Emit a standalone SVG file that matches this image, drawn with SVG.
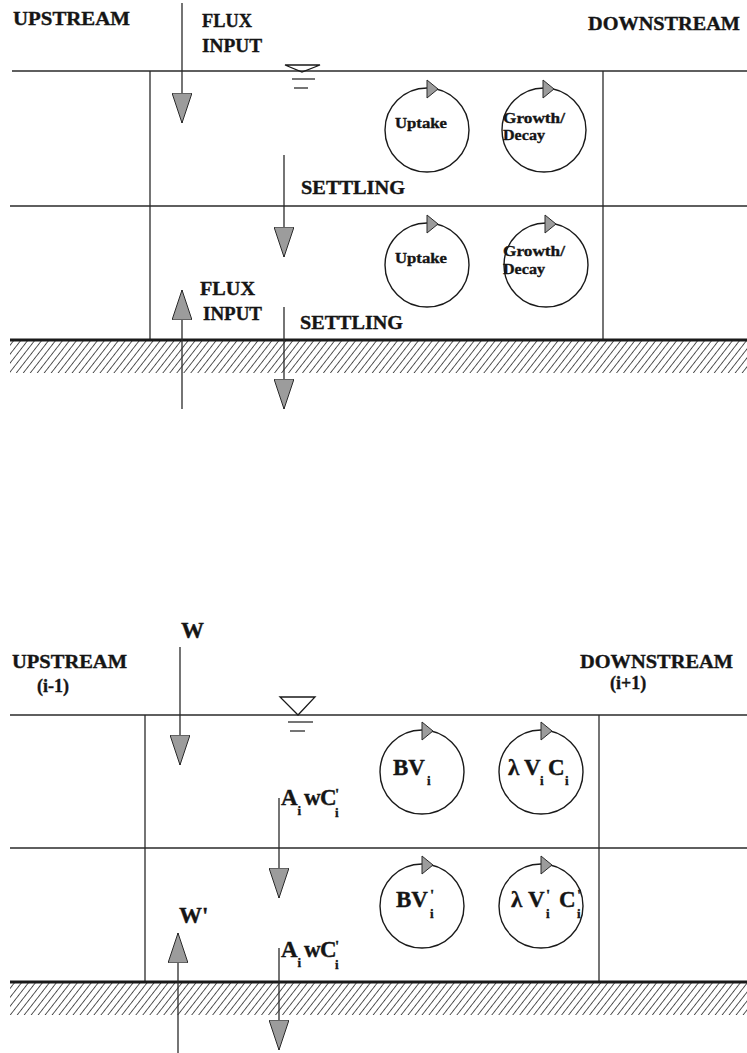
<svg xmlns="http://www.w3.org/2000/svg" width="747" height="1053" viewBox="0 0 747 1053">
<style>
.t{font-family:"Liberation Serif","Times New Roman",serif;font-weight:bold;fill:#151515;stroke:#151515;stroke-width:0.35}
.m{font-size:18px}
.s{font-size:15px}
.b{font-size:23px}
.sub{font-size:13px}
.pr{font-size:15px}
.ln{stroke:#2a2a2a;stroke-width:1.3;fill:none}
.bed{stroke:#1a1a1a;stroke-width:3;fill:none}
.circ{stroke:#1a1a1a;stroke-width:1.4;fill:none}
.ah{fill:#9c9c9c;stroke:#2a2a2a;stroke-width:1}
.ws{fill:none;stroke:#1a1a1a;stroke-width:1.3}
</style>
<defs>
<pattern id="hatch" width="5.5" height="6" patternUnits="userSpaceOnUse" patternTransform="rotate(38)">
<line x1="0" y1="0" x2="0" y2="6" stroke="#222" stroke-width="1.5"/>
</pattern>
<marker id="big" viewBox="0 0 30 20" markerWidth="30" markerHeight="20" refX="30" refY="10" orient="auto" markerUnits="userSpaceOnUse">
<path d="M0,0 L30,10 L0,20 Z" class="ah"/>
</marker>
<path id="carr" d="M0,-9 L11,0 L0,9 Z" class="ah"/>
</defs>

<!-- ===== Top diagram ===== -->
<g id="top-frame">
<line class="ln" x1="12" y1="71" x2="747" y2="71"/>
<line class="ln" x1="10" y1="206" x2="747" y2="206"/>
<line class="ln" x1="150" y1="71" x2="150" y2="340"/>
<line class="ln" x1="603" y1="71" x2="603" y2="340"/>
<rect x="10" y="341" width="737" height="32" fill="url(#hatch)"/>
<line class="bed" x1="10" y1="340" x2="747" y2="340"/>
<polygon class="ws" points="285,65 320,65 302,72"/>
<line class="ln" x1="292" y1="79" x2="315" y2="79"/>
<line class="ln" x1="294" y1="88" x2="308" y2="88"/>
</g>
<g id="top-labels">
<text class="t m" x="13" y="25" textLength="117" lengthAdjust="spacingAndGlyphs">UPSTREAM</text>
<text class="t m" x="588" y="30" textLength="152" lengthAdjust="spacingAndGlyphs">DOWNSTREAM</text>
<text class="t m" x="202" y="27" textLength="50" lengthAdjust="spacingAndGlyphs">FLUX</text>
<text class="t m" x="202" y="52" textLength="60" lengthAdjust="spacingAndGlyphs">INPUT</text>
<text class="t m" x="301" y="194" textLength="104" lengthAdjust="spacingAndGlyphs">SETTLING</text>
<text class="t m" x="200" y="295" textLength="55" lengthAdjust="spacingAndGlyphs">FLUX</text>
<text class="t m" x="203" y="320" textLength="59" lengthAdjust="spacingAndGlyphs">INPUT</text>
<text class="t m" x="300" y="329" textLength="103" lengthAdjust="spacingAndGlyphs">SETTLING</text>
</g>
<g id="top-uptake-1">
<circle class="circ" cx="427" cy="130" r="42"/>
<use href="#carr" x="427" y="89"/>
<text class="t s" x="395" y="128" textLength="52" lengthAdjust="spacingAndGlyphs">Uptake</text>
</g>
<g id="top-growth-1">
<circle class="circ" cx="544" cy="130" r="42"/>
<use href="#carr" x="543" y="89"/>
<text class="t s" x="503" y="123" textLength="62" lengthAdjust="spacingAndGlyphs">Growth/</text>
<text class="t s" x="503" y="140" textLength="42" lengthAdjust="spacingAndGlyphs">Decay</text>
</g>
<g id="top-uptake-2">
<circle class="circ" cx="427" cy="265" r="42"/>
<use href="#carr" x="427" y="224"/>
<text class="t s" x="395" y="263" textLength="52" lengthAdjust="spacingAndGlyphs">Uptake</text>
</g>
<g id="top-growth-2">
<circle class="circ" cx="546" cy="265" r="42"/>
<use href="#carr" x="545" y="224"/>
<text class="t s" x="503" y="256" textLength="62" lengthAdjust="spacingAndGlyphs">Growth/</text>
<text class="t s" x="503" y="274" textLength="42" lengthAdjust="spacingAndGlyphs">Decay</text>
</g>

<!-- ===== Bottom diagram ===== -->
<g id="bottom-frame">
<line class="ln" x1="10" y1="715" x2="747" y2="715"/>
<line class="ln" x1="10" y1="848" x2="747" y2="848"/>
<line class="ln" x1="145" y1="715" x2="145" y2="982"/>
<line class="ln" x1="599" y1="715" x2="599" y2="982"/>
<rect x="10" y="983" width="737" height="32" fill="url(#hatch)"/>
<line class="bed" x1="10" y1="982" x2="747" y2="982"/>
<polygon class="ws" points="280,697 315,697 298,715"/>
<line class="ln" x1="288" y1="722" x2="313" y2="722"/>
<line class="ln" x1="290" y1="731" x2="305" y2="731"/>
</g>
<g id="bottom-labels">
<text class="t m" x="12" y="668" textLength="115" lengthAdjust="spacingAndGlyphs">UPSTREAM</text>
<text class="t m" x="37" y="692">(i-1)</text>
<text class="t m" x="580" y="668" textLength="153" lengthAdjust="spacingAndGlyphs">DOWNSTREAM</text>
<text class="t m" x="610" y="689">(i+1)</text>
<text class="t b" x="181" y="638">W</text>
<text class="t b" x="179" y="923">W'</text>
<text class="t b" x="281" y="805" font-size="20">A</text>
<text class="t sub" x="297.5" y="815">i</text>
<text class="t b" x="304" y="805" font-size="20">w</text>
<text class="t b" x="320" y="805" font-size="20">C</text>
<text class="t pr" x="335" y="799">'</text>
<text class="t sub" x="335" y="817">i</text>
<text class="t b" x="281" y="957" font-size="20">A</text>
<text class="t sub" x="297.5" y="967">i</text>
<text class="t b" x="304" y="957" font-size="20">w</text>
<text class="t b" x="320" y="957" font-size="20">C</text>
<text class="t pr" x="335" y="951">'</text>
<text class="t sub" x="335" y="969">i</text>
</g>
<g id="bottom-bv-1">
<circle class="circ" cx="422" cy="772" r="42"/>
<use href="#carr" x="422" y="731"/>
<text class="t b" x="393" y="775">BV</text>
<text class="t sub" x="427" y="785">i</text>
</g>
<g id="bottom-decay-1">
<circle class="circ" cx="541" cy="772" r="42"/>
<use href="#carr" x="541" y="731"/>
<text class="t b" x="508" y="775">λ</text>
<text class="t b" x="524" y="775">V</text>
<text class="t sub" x="540" y="785">i</text>
<text class="t b" x="548" y="775">C</text>
<text class="t sub" x="565" y="785">i</text>
</g>
<g id="bottom-bv-2">
<circle class="circ" cx="422" cy="906" r="42"/>
<use href="#carr" x="422" y="865"/>
<text class="t b" x="396" y="907">BV</text>
<text class="t pr" x="430" y="900">'</text>
<text class="t sub" x="430" y="918">i</text>
</g>
<g id="bottom-decay-2">
<circle class="circ" cx="541" cy="906" r="42"/>
<use href="#carr" x="541" y="865"/>
<text class="t b" x="511" y="907">λ</text>
<text class="t b" x="528" y="907">V</text>
<text class="t pr" x="546" y="900">'</text>
<text class="t sub" x="546" y="918">i</text>
<text class="t b" x="559" y="907">C</text>
<text class="t pr" x="577" y="900">'</text>
<text class="t sub" x="577" y="918">i</text>
</g>

<g id="connectors">
<line class="ln" x1="182" y1="3" x2="182" y2="123" marker-end="url(#big)"/>
<line class="ln" x1="284" y1="155" x2="284" y2="257" marker-end="url(#big)"/>
<line class="ln" x1="284" y1="307" x2="284" y2="409" marker-end="url(#big)"/>
<line class="ln" x1="182" y1="409" x2="182" y2="290" marker-end="url(#big)"/>
<line class="ln" x1="180" y1="647" x2="180" y2="765" marker-end="url(#big)"/>
<line class="ln" x1="279" y1="798" x2="279" y2="898" marker-end="url(#big)"/>
<line class="ln" x1="279" y1="948" x2="279" y2="1050" marker-end="url(#big)"/>
<line class="ln" x1="178" y1="1053" x2="178" y2="933" marker-end="url(#big)"/>
</g>
</svg>
